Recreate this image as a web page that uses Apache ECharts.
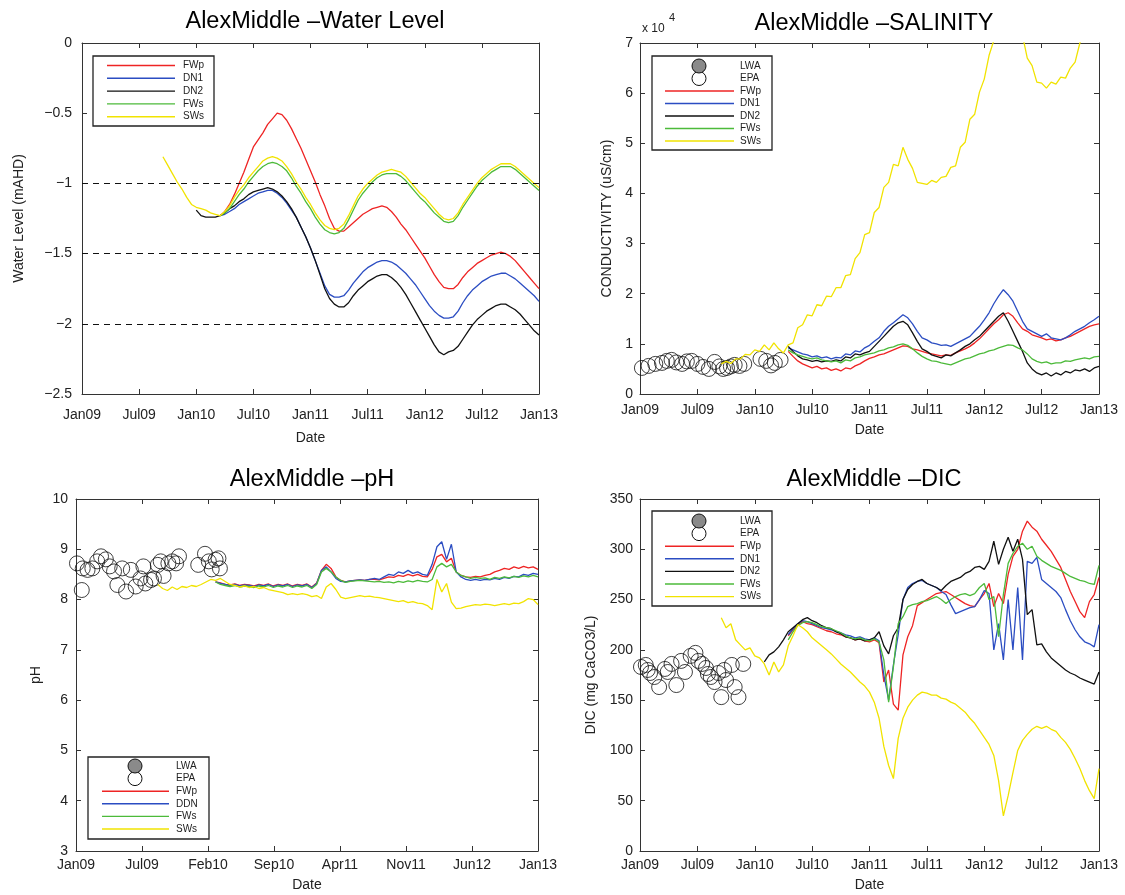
<!DOCTYPE html>
<html>
<head>
<meta charset="utf-8">
<script src="https://cdn.jsdelivr.net/npm/echarts@6/dist/echarts.min.js"></script>
<style>html,body{margin:0;padding:0;background:#fff}#c{width:1125px;height:895px}</style>
</head>
<body>
<div id="c"></div>
<script>
// ---------- tick labels ----------
const halfYearLabels = ['Jan09','Jul09','Jan10','Jul10','Jan11','Jul11','Jan12','Jul12','Jan13'];
const phDateLabels = ['Jan09','Jul09','Feb10','Sep10','Apr11','Nov11','Jun12','Jan13'];

// ---------- Water level (mAHD), months since Jan 2009, half-month steps ----------
const wlRefLines = [-1, -1.5, -2];
const wlSWsStart = 8.5;
const wlSWs = [-0.81,-0.87,-0.93,-0.99,-1.04,-1.10,-1.15,-1.17,-1.18,-1.19,-1.21,-1.22,-1.23,-1.20,-1.16,-1.10,-1.05,-1.01,-0.96,-0.92,-0.88,-0.84,-0.82,-0.81,-0.82,-0.84,-0.88,-0.93,-0.99,-1.04,-1.10,-1.15,-1.21,-1.26,-1.30,-1.32,-1.33,-1.32,-1.29,-1.23,-1.16,-1.09,-1.04,-1.00,-0.97,-0.94,-0.92,-0.91,-0.90,-0.91,-0.92,-0.95,-0.99,-1.03,-1.07,-1.10,-1.14,-1.18,-1.22,-1.25,-1.26,-1.25,-1.21,-1.15,-1.10,-1.05,-1.00,-0.96,-0.93,-0.90,-0.88,-0.86,-0.86,-0.86,-0.88,-0.91,-0.94,-0.97,-1.00,-1.03];
const wlStart = 14.5;
const wlFWs = [-1.23,-1.21,-1.18,-1.13,-1.08,-1.04,-0.99,-0.95,-0.91,-0.88,-0.86,-0.85,-0.86,-0.88,-0.91,-0.96,-1.02,-1.07,-1.13,-1.18,-1.24,-1.29,-1.33,-1.35,-1.36,-1.35,-1.32,-1.26,-1.19,-1.12,-1.07,-1.03,-0.99,-0.96,-0.94,-0.93,-0.93,-0.93,-0.95,-0.98,-1.02,-1.06,-1.10,-1.13,-1.17,-1.21,-1.24,-1.27,-1.28,-1.27,-1.23,-1.17,-1.12,-1.07,-1.02,-0.98,-0.95,-0.92,-0.90,-0.88,-0.88,-0.88,-0.90,-0.93,-0.96,-0.99,-1.02,-1.05];
const wlFWp = [-1.23,-1.20,-1.15,-1.08,-1.00,-0.92,-0.83,-0.74,-0.69,-0.64,-0.58,-0.54,-0.50,-0.51,-0.55,-0.61,-0.68,-0.75,-0.83,-0.91,-0.99,-1.08,-1.16,-1.25,-1.32,-1.34,-1.34,-1.31,-1.28,-1.25,-1.22,-1.20,-1.18,-1.17,-1.16,-1.17,-1.20,-1.24,-1.29,-1.33,-1.38,-1.43,-1.48,-1.53,-1.59,-1.65,-1.70,-1.74,-1.75,-1.75,-1.72,-1.67,-1.63,-1.60,-1.57,-1.55,-1.53,-1.51,-1.50,-1.49,-1.50,-1.52,-1.55,-1.59,-1.63,-1.67,-1.71,-1.75];
const wlDN1 = [-1.23,-1.22,-1.20,-1.18,-1.15,-1.13,-1.11,-1.09,-1.07,-1.06,-1.05,-1.05,-1.07,-1.10,-1.14,-1.19,-1.24,-1.31,-1.38,-1.46,-1.55,-1.64,-1.73,-1.79,-1.81,-1.81,-1.80,-1.76,-1.71,-1.67,-1.63,-1.60,-1.58,-1.56,-1.55,-1.55,-1.56,-1.58,-1.61,-1.64,-1.68,-1.72,-1.77,-1.82,-1.87,-1.91,-1.94,-1.96,-1.96,-1.95,-1.91,-1.85,-1.80,-1.76,-1.73,-1.70,-1.68,-1.66,-1.65,-1.64,-1.64,-1.66,-1.68,-1.71,-1.74,-1.77,-1.80,-1.84];
const wlDN2Start = 12.0;
const wlDN2 = [-1.19,-1.23,-1.24,-1.24,-1.24,-1.23,-1.21,-1.18,-1.16,-1.13,-1.11,-1.08,-1.06,-1.05,-1.04,-1.03,-1.04,-1.06,-1.09,-1.13,-1.18,-1.24,-1.31,-1.38,-1.46,-1.55,-1.65,-1.75,-1.82,-1.86,-1.88,-1.88,-1.85,-1.80,-1.76,-1.73,-1.70,-1.68,-1.66,-1.65,-1.65,-1.67,-1.70,-1.74,-1.79,-1.85,-1.91,-1.97,-2.03,-2.09,-2.15,-2.20,-2.22,-2.20,-2.19,-2.16,-2.11,-2.06,-2.01,-1.97,-1.94,-1.91,-1.89,-1.87,-1.86,-1.86,-1.88,-1.90,-1.93,-1.97,-2.01,-2.05,-2.08];

// ---------- Conductivity (x 10^4 uS/cm) ----------
const salSWsStart = 8.5;
const salSWs = [0.60,0.65,0.61,0.70,0.70,0.79,0.78,0.88,0.85,0.98,0.88,1.02,0.90,0.82,0.98,1.02,1.32,1.38,1.58,1.56,1.78,1.76,1.95,1.94,2.12,2.12,2.36,2.38,2.70,2.82,3.18,3.22,3.62,3.72,4.12,4.22,4.58,4.55,4.92,4.68,4.50,4.22,4.20,4.18,4.26,4.22,4.32,4.34,4.52,4.55,4.92,5.02,5.48,5.58,6.02,6.28,6.75,7.05,7.40,7.80,8.00,7.90,7.60,7.15,6.70,6.55,6.22,6.20,6.10,6.22,6.18,6.32,6.30,6.50,6.62,7.00,7.30,7.60,7.90,8.10];
const salStart = 15.5;
const salFWp = [0.85,0.75,0.66,0.60,0.56,0.52,0.55,0.50,0.52,0.47,0.50,0.46,0.52,0.50,0.56,0.60,0.66,0.71,0.74,0.78,0.80,0.84,0.88,0.92,0.96,0.95,0.90,0.88,0.85,0.82,0.80,0.78,0.76,0.78,0.77,0.82,0.86,0.90,0.95,1.02,1.10,1.20,1.30,1.40,1.48,1.58,1.62,1.55,1.42,1.30,1.25,1.18,1.15,1.12,1.08,1.10,1.06,1.08,1.12,1.15,1.20,1.25,1.30,1.35,1.38,1.40];
const salDN1 = [0.92,0.88,0.84,0.80,0.78,0.74,0.76,0.72,0.74,0.70,0.73,0.72,0.80,0.78,0.86,0.84,0.92,0.97,1.05,1.12,1.25,1.35,1.42,1.50,1.58,1.52,1.40,1.25,1.12,1.08,1.02,1.00,0.97,0.98,0.95,1.00,1.05,1.10,1.15,1.25,1.35,1.48,1.62,1.80,1.95,2.08,1.98,1.85,1.65,1.45,1.30,1.25,1.20,1.15,1.20,1.12,1.10,1.08,1.12,1.18,1.25,1.30,1.35,1.42,1.48,1.55];
const salDN2 = [0.95,0.85,0.76,0.70,0.68,0.65,0.67,0.64,0.66,0.65,0.68,0.66,0.74,0.72,0.80,0.78,0.82,0.85,0.95,1.05,1.15,1.25,1.35,1.42,1.45,1.38,1.22,1.05,0.90,0.85,0.78,0.75,0.72,0.78,0.76,0.82,0.88,0.95,1.00,1.08,1.15,1.25,1.35,1.45,1.55,1.62,1.45,1.25,1.05,0.85,0.62,0.50,0.42,0.38,0.42,0.36,0.42,0.38,0.45,0.42,0.48,0.46,0.50,0.45,0.52,0.55];
const salFWs = [0.88,0.82,0.78,0.75,0.72,0.70,0.72,0.68,0.66,0.64,0.66,0.62,0.68,0.66,0.72,0.74,0.78,0.80,0.82,0.86,0.88,0.92,0.94,0.98,1.00,0.97,0.90,0.82,0.75,0.70,0.66,0.65,0.62,0.60,0.58,0.62,0.66,0.70,0.72,0.76,0.80,0.82,0.86,0.88,0.92,0.95,0.98,0.97,0.92,0.88,0.80,0.70,0.65,0.62,0.64,0.60,0.62,0.62,0.66,0.65,0.68,0.70,0.72,0.70,0.74,0.75];
const epaSalMonths = [0.2,0.9,1.6,2.3,2.8,3.3,3.8,4.4,4.9,5.4,6.0,6.6,7.2,7.8,8.3,8.7,9.1,9.5,9.9,10.4,10.9,12.6,13.2,13.7,14.1,14.7];
const epaSalValues = [0.52,0.56,0.60,0.62,0.66,0.68,0.63,0.60,0.65,0.66,0.60,0.54,0.50,0.64,0.55,0.50,0.52,0.55,0.58,0.56,0.60,0.70,0.66,0.57,0.62,0.68];

// ---------- pH ----------
const phSWsStart = 8.5;
const phSWs = [8.30,8.22,8.18,8.25,8.20,8.26,8.24,8.28,8.26,8.30,8.35,8.40,8.38,8.42,8.36,8.30,8.28,8.25,8.27,8.24,8.26,8.22,8.24,8.20,8.18,8.16,8.14,8.10,8.12,8.10,8.12,8.10,8.06,8.08,8.02,8.25,8.32,8.20,8.05,8.02,8.04,8.06,8.08,8.06,8.07,8.05,8.04,8.02,8.00,7.98,7.96,7.98,7.94,7.96,7.93,7.92,7.88,7.80,8.40,8.15,8.32,7.95,7.82,7.83,7.86,7.88,7.90,7.89,7.91,7.90,7.88,7.90,7.92,7.90,7.93,7.92,7.96,8.02,8.00,7.90];
const phStart = 14.5;
const phFWp = [8.35,8.33,8.30,8.29,8.31,8.28,8.30,8.29,8.27,8.30,8.28,8.31,8.27,8.30,8.28,8.31,8.27,8.30,8.28,8.31,8.25,8.33,8.58,8.70,8.62,8.45,8.38,8.35,8.37,8.38,8.39,8.38,8.40,8.40,8.39,8.42,8.45,8.44,8.48,8.46,8.50,8.47,8.50,8.46,8.45,8.60,8.85,8.90,8.75,8.82,8.55,8.48,8.45,8.44,8.46,8.45,8.48,8.50,8.55,8.58,8.62,8.60,8.65,8.62,8.66,8.63,8.65,8.60];
const phDDN = [8.35,8.32,8.30,8.28,8.30,8.27,8.29,8.28,8.26,8.29,8.27,8.30,8.26,8.29,8.27,8.30,8.26,8.29,8.27,8.30,8.24,8.32,8.58,8.65,8.55,8.42,8.36,8.35,8.37,8.38,8.39,8.38,8.40,8.42,8.40,8.45,8.50,8.48,8.55,8.52,8.58,8.52,8.55,8.50,8.48,8.70,9.05,9.15,8.80,9.10,8.55,8.45,8.40,8.38,8.40,8.38,8.40,8.39,8.42,8.40,8.44,8.42,8.46,8.45,8.50,8.48,8.52,8.50];
const phFWs = [8.35,8.30,8.28,8.26,8.28,8.25,8.27,8.26,8.24,8.27,8.25,8.28,8.24,8.27,8.25,8.28,8.24,8.27,8.25,8.28,8.22,8.30,8.55,8.62,8.55,8.45,8.38,8.34,8.36,8.37,8.38,8.37,8.36,8.35,8.36,8.34,8.35,8.33,8.36,8.34,8.37,8.35,8.38,8.36,8.35,8.40,8.65,8.72,8.65,8.70,8.55,8.48,8.45,8.42,8.44,8.42,8.43,8.40,8.44,8.42,8.45,8.43,8.46,8.44,8.47,8.45,8.48,8.45];
const epaPhMonths = [0.1,0.6,0.7,1.2,1.7,2.2,2.6,3.1,3.5,3.95,4.3,4.8,5.2,5.7,6.2,6.7,7.0,7.2,7.8,8.1,8.5,8.8,9.1,9.6,10.0,10.4,10.7,12.7,13.4,13.8,14.1,14.5,14.8,14.95];
const epaPhValues = [8.72,8.19,8.62,8.59,8.62,8.76,8.86,8.80,8.66,8.56,8.29,8.62,8.16,8.59,8.26,8.42,8.66,8.32,8.39,8.42,8.69,8.76,8.47,8.72,8.76,8.72,8.86,8.69,8.91,8.76,8.60,8.79,8.82,8.62];

// ---------- DIC (mg CaCO3/L) ----------
const dicSWsStart = 8.5;
const dicSWs = [232,222,226,210,205,200,202,194,192,186,175,188,178,185,204,214,225,222,218,212,208,204,200,196,191,186,182,178,173,168,164,158,148,132,104,85,72,112,132,143,150,155,158,157,155,155,152,151,148,146,142,138,132,127,120,113,106,95,70,35,55,78,100,110,116,121,124,122,124,121,119,113,108,101,92,82,70,60,52,82];
const dicDN2Start = 13.0;
const dicDN2 = [188,195,198,203,210,218,222,226,230,232,229,227,224,222,221,218,216,213,212,210,211,209,210,212,218,204,196,214,222,250,260,265,268,270,266,264,262,259,264,268,270,272,276,278,282,283,280,288,308,285,300,312,298,310,290,235,240,205,206,198,192,188,184,180,177,175,172,170,168,166,178];
const dicStart = 15.5;
const dicFWp = [214,220,225,228,226,225,223,221,219,218,216,215,213,212,210,211,209,208,210,207,168,180,146,140,195,213,224,244,247,250,253,256,257,258,255,252,249,246,244,243,250,256,266,243,256,246,275,293,300,318,328,322,318,310,304,298,290,282,270,258,248,238,232,248,255,272];
const dicDN1 = [215,221,226,229,228,226,224,222,221,220,218,217,215,214,212,213,211,210,212,209,175,150,185,215,250,262,266,268,269,266,264,262,258,255,245,236,238,240,242,243,250,259,256,200,226,190,250,200,262,190,288,286,292,270,266,262,258,252,240,229,220,213,208,206,203,225];
const dicFWs = [210,218,224,227,228,227,225,223,222,221,219,217,214,212,211,212,210,209,211,208,190,148,183,226,233,243,245,246,248,249,251,253,250,246,250,253,255,256,254,256,262,266,250,253,213,255,286,296,303,306,300,303,293,289,286,283,281,279,276,273,271,269,268,266,265,284];
const epaDicMonths = [0.1,0.6,0.8,1.05,1.5,2.0,2.6,2.9,3.3,3.8,4.3,4.7,5.3,5.8,6.1,6.5,6.9,7.1,7.4,7.8,8.2,8.5,8.8,9.0,9.6,9.9,10.3,10.8];
const epaDicValues = [183,185,180,177,173,163,181,178,186,165,189,178,194,197,189,186,182,176,173,168,177,153,180,170,185,163,153,186];

// ---------- legend entries ----------
const legendWL = ['FWp','DN1','DN2','FWs','SWs'];
const legendSal = ['LWA','EPA','FWp','DN1','DN2','FWs','SWs'];
const legendPh = ['LWA','EPA','FWp','DDN','FWs','SWs'];
const legendDic = ['LWA','EPA','FWp','DN1','DN2','FWs','SWs'];

// ================= rendering =================
const FONT = "'Liberation Sans', Arial, Helvetica, sans-serif";
const COL = {FWp:'#ee2424', DN1:'#2b4dc2', DDN:'#2b4dc2', DN2:'#111111', FWs:'#4cba3a', SWs:'#f1e300'};
const AX = '#333';

function pts(start, step, vals, k) { k = k || 1; return vals.map((v, i) => [(start + step * i) * k, v]); }
function pairs(ms, vs, k) { k = k || 1; return ms.map((m, i) => [m * k, vs[i]]); }

const grids = [
  {left: 82, top: 43, width: 457, height: 351},
  {left: 640, top: 43, width: 459, height: 351},
  {left: 76, top: 499, width: 462, height: 352},
  {left: 640, top: 499, width: 459, height: 352}
];

const xAxes = [], yAxes = [];
function addAxes(gi, xcfg, ycfg) {
  const tick = {show: true, inside: true, length: 5, lineStyle: {color: AX, width: 1}};
  const line = {show: true, onZero: false, lineStyle: {color: AX, width: 1}};
  xAxes.push({gridIndex: gi, type: 'value', position: 'bottom', min: xcfg.min, max: xcfg.max, interval: xcfg.interval,
    name: 'Date', nameLocation: 'middle', nameGap: xcfg.nameGap,
    nameTextStyle: {fontSize: 14, color: '#222', fontFamily: FONT},
    axisLine: line, axisTick: tick, splitLine: {show: false},
    axisLabel: {fontSize: 14, color: '#222', fontFamily: FONT, margin: xcfg.margin,
      formatter: v => xcfg.labels[Math.round((v - xcfg.min) / xcfg.interval)] || ''}});
  xAxes.push({gridIndex: gi, type: 'value', position: 'top', min: xcfg.min, max: xcfg.max, interval: xcfg.interval,
    axisLine: line, axisTick: tick, splitLine: {show: false}, axisLabel: {show: false}});
  yAxes.push({gridIndex: gi, type: 'value', position: 'left', min: ycfg.min, max: ycfg.max, interval: ycfg.interval,
    name: ycfg.name, nameLocation: 'middle', nameGap: ycfg.nameGap,
    nameTextStyle: {fontSize: 14, color: '#222', fontFamily: FONT},
    axisLine: line, axisTick: tick, splitLine: {show: false},
    axisLabel: {fontSize: 14, color: '#222', fontFamily: FONT, margin: ycfg.margin, formatter: ycfg.fmt}});
  yAxes.push({gridIndex: gi, type: 'value', position: 'right', min: ycfg.min, max: ycfg.max, interval: ycfg.interval,
    axisLine: line, axisTick: tick, splitLine: {show: false}, axisLabel: {show: false}});
}

const minusFmt = v => (v < 0 ? '\u2212' + String(Math.abs(v)) : String(v));
addAxes(0, {min: 0, max: 48, interval: 6, labels: halfYearLabels, nameGap: 37, margin: 14},
           {min: -2.5, max: 0, interval: 0.5, name: 'Water Level (mAHD)', nameGap: 56, margin: 10, fmt: minusFmt});
addAxes(1, {min: 0, max: 48, interval: 6, labels: halfYearLabels, nameGap: 29, margin: 9},
           {min: 0, max: 7, interval: 1, name: 'CONDUCTIVITY (uS/cm)', nameGap: 26, margin: 7, fmt: v => String(v)});
// pH axis counted in sevenths of a month so the 7 equal date intervals are whole numbers
addAxes(2, {min: 0, max: 336, interval: 48, labels: phDateLabels, nameGap: 27, margin: 7},
           {min: 3, max: 10, interval: 1, name: 'pH', nameGap: 33, margin: 8, fmt: v => String(v)});
addAxes(3, {min: 0, max: 48, interval: 6, labels: halfYearLabels, nameGap: 27, margin: 7},
           {min: 0, max: 350, interval: 50, name: 'DIC (mg CaCO3/L)', nameGap: 42, margin: 7, fmt: v => String(v)});

const series = [];
function line(gi, name, data) {
  series.push({type: 'line', name: name, xAxisIndex: gi * 2, yAxisIndex: gi * 2, data: data,
    symbol: 'none', showSymbol: false, silent: true, animation: false,
    lineStyle: {width: 1.3, color: COL[name]}, itemStyle: {color: COL[name]}});
  return series[series.length - 1];
}
function epa(gi, data) {
  series.push({type: 'scatter', name: 'EPA', xAxisIndex: gi * 2, yAxisIndex: gi * 2, data: data,
    symbol: 'circle', symbolSize: 15, silent: true, animation: false,
    itemStyle: {color: 'rgba(255,255,255,0)', borderColor: '#111', borderWidth: 1}});
}

// Panel 1
const s1 = line(0, 'FWp', pts(wlStart, 0.5, wlFWp));
s1.markLine = {silent: true, symbol: 'none', animation: false, label: {show: false},
  lineStyle: {color: '#111', type: [6, 5], width: 1},
  data: wlRefLines.map(v => ({yAxis: v}))};
line(0, 'DN1', pts(wlStart, 0.5, wlDN1));
line(0, 'DN2', pts(wlDN2Start, 0.5, wlDN2));
line(0, 'FWs', pts(wlStart, 0.5, wlFWs));
line(0, 'SWs', pts(wlSWsStart, 0.5, wlSWs));
// Panel 2
epa(1, pairs(epaSalMonths, epaSalValues));
line(1, 'FWp', pts(salStart, 0.5, salFWp));
line(1, 'DN1', pts(salStart, 0.5, salDN1));
line(1, 'DN2', pts(salStart, 0.5, salDN2));
line(1, 'FWs', pts(salStart, 0.5, salFWs));
line(1, 'SWs', pts(salSWsStart, 0.5, salSWs));
// Panel 3
epa(2, pairs(epaPhMonths, epaPhValues, 7));
line(2, 'FWp', pts(phStart, 0.5, phFWp, 7));
line(2, 'DDN', pts(phStart, 0.5, phDDN, 7));
line(2, 'FWs', pts(phStart, 0.5, phFWs, 7));
line(2, 'SWs', pts(phSWsStart, 0.5, phSWs, 7));
// Panel 4
epa(3, pairs(epaDicMonths, epaDicValues));
line(3, 'FWp', pts(dicStart, 0.5, dicFWp));
line(3, 'DN1', pts(dicStart, 0.5, dicDN1));
line(3, 'DN2', pts(dicDN2Start, 0.5, dicDN2));
line(3, 'FWs', pts(dicStart, 0.5, dicFWs));
line(3, 'SWs', pts(dicSWsStart, 0.5, dicSWs));

// MATLAB-style legend boxes
const graphics = [];
function legendBox(box, names, rowY0, rowGap, lineX0, lineX1, markX, textX) {
  graphics.push({type: 'rect', z: 100, shape: {x: box.x, y: box.y, width: box.w, height: box.h},
    style: {fill: '#fff', stroke: '#222', lineWidth: 1.3}});
  const marks = [];
  names.forEach((n, i) => {
    const y = rowY0 + i * rowGap;
    if (n === 'LWA' || n === 'EPA') {
      marks.push({type: 'circle', z: n === 'LWA' ? 102 : 101, shape: {cx: markX, cy: y, r: 7},
        style: {fill: n === 'LWA' ? '#8a8a8a' : '#fff', stroke: '#111', lineWidth: 1}});
    } else {
      graphics.push({type: 'line', z: 101, shape: {x1: lineX0, y1: y, x2: lineX1, y2: y},
        style: {stroke: COL[n], lineWidth: 1.4}});
    }
    graphics.push({type: 'text', z: 101, x: textX, y: y,
      style: {text: n, fontSize: 10, fill: '#222', fontFamily: FONT, verticalAlign: 'middle', textVerticalAlign: 'middle'}});
  });
  marks.forEach(m => graphics.push(m));
}
legendBox({x: 93, y: 56, w: 121, h: 70}, legendWL, 65.5, 12.8, 107, 175, 0, 183);
legendBox({x: 652, y: 56, w: 120, h: 94}, legendSal, 66, 12.5, 665, 734, 699, 740);
legendBox({x: 88, y: 757, w: 121, h: 82}, legendPh, 766, 12.6, 102, 169, 135, 176);
legendBox({x: 652, y: 511, w: 120, h: 95}, legendDic, 521, 12.6, 665, 734, 699, 740);

// exponent label of the conductivity axis
graphics.push({type: 'text', x: 642, y: 29, style: {text: 'x 10', fontSize: 12, fill: '#222', fontFamily: FONT, verticalAlign: 'middle', textVerticalAlign: 'middle'}});
graphics.push({type: 'text', x: 669, y: 18, style: {text: '4', fontSize: 11, fill: '#222', fontFamily: FONT, verticalAlign: 'middle', textVerticalAlign: 'middle'}});

const titleStyle = {fontSize: 23.5, fontWeight: 'normal', color: '#000', fontFamily: FONT};
const titles = [
  {text: 'AlexMiddle \u2013Water Level', left: 310, top: 5, textAlign: 'center', textStyle: titleStyle},
  {text: 'AlexMiddle \u2013SALINITY', left: 869, top: 7, textAlign: 'center', textStyle: titleStyle},
  {text: 'AlexMiddle \u2013pH', left: 307, top: 463, textAlign: 'center', textStyle: titleStyle},
  {text: 'AlexMiddle \u2013DIC', left: 869, top: 463, textAlign: 'center', textStyle: titleStyle}
];

const chart = echarts.init(document.getElementById('c'), null, {renderer: 'canvas'});
chart.setOption({
  backgroundColor: '#fff',
  animation: false,
  title: titles,
  grid: grids,
  xAxis: xAxes,
  yAxis: yAxes,
  series: series,
  graphic: graphics
});
</script>
</body>
</html>
